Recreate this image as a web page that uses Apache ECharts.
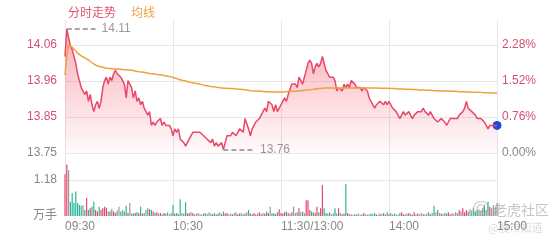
<!DOCTYPE html>
<html><head><meta charset="utf-8">
<script src="https://cdn.jsdelivr.net/npm/echarts@6/dist/echarts.min.js"></script>
<style>html,body{margin:0;padding:0;background:#fff}#c{width:560px;height:240px}</style>
</head><body><div id="c"></div>
<script>
const PREV_CLOSE = 13.75;
const PCT_MAX = 2.808;
const VOL_MAX = 2.065;
const PCT_INTERVAL = 0.76;
const VOL_INTERVAL = 1.18;

const TIME_LABELS = ['09:30', '10:30', '11:30/13:00', '14:00', '15:00'];
const PRICE_TICKS = ['13.75', '13.85', '13.96', '14.06'];
const PCT_TICKS = ['0.00%', '0.76%', '1.52%', '2.28%'];
const VOL_TICKS = ['万手', '1.18'];

const PRICES = [
14.03,14.11,14.11,14.06,14.05,14.03,14.01,13.98,13.96,13.94,
13.94,13.92,13.93,13.90,13.92,13.89,13.87,13.89,13.90,13.88,
13.90,13.94,13.96,13.97,13.95,13.97,13.96,13.98,13.99,13.98,
13.98,13.97,13.97,13.95,13.91,13.96,13.96,13.94,13.91,13.93,
13.90,13.91,13.89,13.90,13.88,13.88,13.86,13.87,13.83,13.84,
13.83,13.84,13.84,13.85,13.83,13.84,13.83,13.83,13.83,13.82,
13.80,13.82,13.81,13.82,13.79,13.79,13.78,13.77,13.78,13.79,
13.79,13.81,13.81,13.81,13.81,13.81,13.81,13.80,13.80,13.79,
13.79,13.78,13.79,13.77,13.78,13.77,13.77,13.78,13.76,13.78,
13.80,13.80,13.80,13.81,13.81,13.80,13.81,13.82,13.82,13.81,
13.85,13.85,13.82,13.80,13.82,13.83,13.84,13.84,13.85,13.86,
13.86,13.88,13.87,13.90,13.90,13.89,13.87,13.89,13.87,13.88,
13.89,13.90,13.91,13.90,13.92,13.92,13.95,13.95,13.95,13.94,
13.97,13.97,13.95,13.95,13.99,14.01,14.02,14.01,13.98,14.00,
14.01,14.00,14.01,14.03,14.01,13.99,13.98,13.97,13.97,13.97,
13.96,13.93,13.94,13.94,13.93,13.95,13.94,13.95,13.94,13.96,
13.96,13.95,13.94,13.94,13.94,13.93,13.94,13.94,13.93,13.91,
13.90,13.89,13.88,13.89,13.89,13.90,13.90,13.89,13.90,13.89,
13.90,13.89,13.88,13.88,13.87,13.87,13.85,13.86,13.87,13.86,
13.86,13.87,13.86,13.85,13.86,13.86,13.87,13.87,13.87,13.88,
13.87,13.87,13.86,13.87,13.87,13.85,13.85,13.84,13.84,13.85,
13.85,13.84,13.83,13.84,13.85,13.85,13.85,13.85,13.85,13.86,
13.86,13.87,13.88,13.90,13.88,13.88,13.87,13.87,13.86,13.85,
13.85,13.85,13.85,13.84,13.84,13.82,13.83,13.83,13.83,13.83,
13.83
];

const AVG = [
13.976,14.034,14.063,14.061,14.057,14.052,14.046,14.040,14.035,14.032,
14.029,14.026,14.023,14.020,14.016,14.012,14.008,14.005,14.003,14.001,
14.000,13.999,13.997,13.996,13.996,13.995,13.995,13.994,13.994,13.994,
13.993,13.993,13.993,13.992,13.992,13.991,13.991,13.990,13.989,13.988,
13.987,13.986,13.985,13.985,13.984,13.983,13.982,13.981,13.980,13.980,
13.979,13.978,13.978,13.977,13.976,13.975,13.974,13.973,13.972,13.971,
13.969,13.968,13.966,13.964,13.962,13.961,13.960,13.959,13.957,13.956,
13.955,13.954,13.953,13.952,13.951,13.950,13.949,13.947,13.946,13.945,
13.944,13.943,13.942,13.942,13.941,13.940,13.939,13.939,13.938,13.938,
13.938,13.937,13.937,13.937,13.936,13.936,13.935,13.935,13.934,13.934,
13.933,13.933,13.932,13.931,13.931,13.930,13.930,13.930,13.929,13.929,
13.929,13.928,13.928,13.928,13.927,13.927,13.927,13.927,13.927,13.927,
13.927,13.927,13.928,13.928,13.928,13.929,13.929,13.929,13.930,13.930,
13.930,13.931,13.931,13.932,13.932,13.933,13.934,13.934,13.935,13.936,
13.936,13.937,13.937,13.938,13.938,13.939,13.939,13.939,13.939,13.939,
13.939,13.939,13.939,13.939,13.939,13.939,13.939,13.939,13.939,13.939,
13.939,13.939,13.939,13.939,13.939,13.939,13.939,13.939,13.939,13.939,
13.939,13.939,13.939,13.939,13.939,13.938,13.938,13.938,13.938,13.938,
13.938,13.937,13.937,13.937,13.937,13.936,13.936,13.936,13.936,13.935,
13.935,13.935,13.935,13.934,13.934,13.934,13.934,13.933,13.933,13.933,
13.933,13.932,13.932,13.932,13.932,13.931,13.931,13.931,13.931,13.930,
13.930,13.930,13.930,13.930,13.930,13.929,13.929,13.929,13.929,13.928,
13.928,13.928,13.928,13.927,13.927,13.927,13.927,13.926,13.926,13.926,
13.926,13.926,13.925,13.925,13.925,13.925,13.925,13.924,13.924,13.924,
13.924
];

const VOLUMES = [
1.37,1.69,1.51,0.47,0.75,0.43,0.80,0.43,0.36,0.34,
0.36,0.20,0.60,0.20,0.25,0.30,0.47,0.20,0.15,0.30,
0.20,0.25,0.30,0.27,0.15,0.15,0.22,0.15,0.10,0.17,
0.30,0.15,0.20,0.15,0.34,0.10,0.43,0.08,0.08,0.10,
0.12,0.10,0.30,0.08,0.10,0.20,0.25,0.22,0.20,0.15,
0.10,0.12,0.08,0.10,0.06,0.10,0.08,0.12,0.06,0.10,
0.36,0.08,0.10,0.06,0.55,0.10,0.08,0.45,0.08,0.10,
0.12,0.10,0.06,0.08,0.10,0.06,0.05,0.08,0.10,0.06,
0.12,0.08,0.06,0.10,0.05,0.08,0.12,0.06,0.15,0.08,
0.10,0.06,0.08,0.05,0.10,0.12,0.06,0.08,0.10,0.05,
0.08,0.12,0.20,0.08,0.06,0.10,0.05,0.08,0.12,0.06,
0.10,0.08,0.15,0.10,0.30,0.08,0.10,0.06,0.12,0.22,
0.10,0.08,0.12,0.15,0.10,0.08,0.12,0.30,0.10,0.12,
0.25,0.12,0.15,0.10,0.52,0.52,0.20,0.15,0.12,0.10,
0.30,0.12,0.25,1.02,0.25,0.10,0.08,0.12,0.06,0.10,
0.25,0.08,0.25,0.10,0.06,0.08,1.05,0.10,0.06,0.05,
0.04,0.06,0.05,0.08,0.04,0.05,0.10,0.06,0.04,0.05,
0.08,0.06,0.10,0.05,0.04,0.08,0.06,0.10,0.05,0.12,
0.06,0.10,0.05,0.08,0.06,0.04,0.10,0.12,0.06,0.05,
0.08,0.10,0.06,0.04,0.12,0.06,0.08,0.05,0.10,0.06,
0.05,0.08,0.12,0.06,0.10,0.34,0.12,0.20,0.10,0.08,
0.06,0.10,0.08,0.12,0.06,0.10,0.08,0.12,0.10,0.20,
0.15,0.25,0.12,0.20,0.15,0.22,0.18,0.25,0.15,0.20,
0.22,0.18,0.25,0.34,0.20,0.47,0.30,0.25,0.35,0.30,
0.43
];

// time categories 09:30-11:30, 13:01-15:00
const TIMES = [];
function pad(n){return (n<10?'0':'')+n;}
for (let m = 0; m <= 120; m++) { const t = 9*60+30+m; TIMES.push(pad(Math.floor(t/60))+':'+pad(t%60)); }
for (let m = 1; m <= 120; m++) { const t = 13*60+m; TIMES.push(pad(Math.floor(t/60))+':'+pad(t%60)); }

const RED = '#e8486a', GREEN = '#2fb59c', GRAY = '#9a9a9a';
const LABEL_RED = '#d4506e', LABEL_GRAY = '#888';
const GRID_COLOR = '#e6e6e6';

const maxV = Math.max(...PRICES), minV = Math.min(...PRICES);
const maxIdx = PRICES.indexOf(maxV), minIdx = PRICES.indexOf(minV);
const last = PRICES.length - 1;

const volData = VOLUMES.map((v, i) => {
  const prev = i === 0 ? PREV_CLOSE : PRICES[i-1];
  const c = PRICES[i] > prev ? RED : (PRICES[i] < prev ? GREEN : GRAY);
  return { value: v, itemStyle: { color: c } };
});

const chart = echarts.init(document.getElementById('c'));
const FONT = 'Arial, "Liberation Sans", "Noto Sans CJK SC", sans-serif';
chart.setOption({
  animation: false,
  textStyle: { fontFamily: FONT },
  title: {
    text: '{a|分时走势}{b|均线}', left: 63, top: 3,
    textStyle: { fontWeight: 'normal', rich: {
      a: { color: '#e2566f', fontSize: 12, fontWeight: 'normal', fontFamily: FONT, padding: [0, 15, 0, 0] },
      b: { color: '#f0a040', fontSize: 12, fontWeight: 'normal', fontFamily: FONT }
    } }
  },
  grid: [
    { left: 65, right: 63, top: 20, height: 133 },
    { left: 65, right: 63, top: 153, height: 63 }
  ],
  xAxis: [
    { type: 'category', gridIndex: 0, data: TIMES, boundaryGap: false,
      axisLine: { show: false }, axisTick: { show: false }, axisLabel: { show: false },
      splitLine: { show: true, interval: (i) => i % 60 === 0, lineStyle: { color: GRID_COLOR } } },
    { type: 'category', gridIndex: 1, data: TIMES, boundaryGap: false,
      axisLine: { show: false }, axisTick: { show: false },
      axisLabel: { interval: (i) => i % 60 === 0, formatter: (v, i) => TIME_LABELS[Math.round(i/60)] || '',
        align: 'left', color: LABEL_GRAY, fontSize: 12, margin: 5 },
      splitLine: { show: true, interval: (i) => i % 60 === 0, lineStyle: { color: GRID_COLOR } } }
  ],
  yAxis: [
    { type: 'value', gridIndex: 0, position: 'left', min: 0, max: PCT_MAX, interval: PCT_INTERVAL,
      axisLine: { show: false }, axisTick: { show: false },
      axisLabel: { showMaxLabel: false, margin: 8, fontSize: 12,
        formatter: (v) => PRICE_TICKS[Math.round(v / PCT_INTERVAL)] || '',
        color: (v) => Number(v) > 0 ? LABEL_RED : LABEL_GRAY },
      splitLine: { show: true, showMaxLine: false, lineStyle: { color: GRID_COLOR } } },
    { type: 'value', gridIndex: 0, position: 'right', min: 0, max: PCT_MAX, interval: PCT_INTERVAL,
      axisLine: { show: false }, axisTick: { show: false },
      axisLabel: { showMaxLabel: false, margin: 5, fontSize: 12,
        formatter: (v) => PCT_TICKS[Math.round(v / PCT_INTERVAL)] || '',
        color: (v) => Number(v) > 0 ? LABEL_RED : LABEL_GRAY },
      splitLine: { show: false } },
    { type: 'value', gridIndex: 0, min: PREV_CLOSE, max: PREV_CLOSE * (1 + PCT_MAX / 100), show: false },
    { type: 'value', gridIndex: 1, position: 'left', min: 0, max: VOL_MAX, interval: VOL_INTERVAL,
      axisLine: { show: false }, axisTick: { show: false },
      axisLabel: { showMaxLabel: false, margin: 8, fontSize: 12, color: LABEL_GRAY,
        formatter: (v) => VOL_TICKS[Math.round(v / VOL_INTERVAL)] || '' },
      splitLine: { show: true, showMinLine: false, showMaxLine: false, lineStyle: { color: GRID_COLOR } } }
  ],
  series: [
    { name: '分时走势', type: 'line', xAxisIndex: 0, yAxisIndex: 2, data: PRICES,
      symbol: 'none', lineStyle: { color: RED, width: 1.5 },
      areaStyle: { origin: 'start', color: new echarts.graphic.LinearGradient(0, 0, 0, 1, [
        { offset: 0, color: 'rgba(243,90,112,0.7)' },
        { offset: 1, color: 'rgba(243,90,112,0.04)' }
      ]) },
      markLine: { silent: true, symbol: ['none', 'none'], animation: false,
        lineStyle: { color: '#8a8a8a', type: [5, 3], width: 1.5 },
        label: { position: 'end', color: '#999', fontSize: 12, distance: 6,
          formatter: (p) => [maxV, minV][p.dataIndex].toFixed(2) },
        data: [
          [{ coord: [maxIdx, maxV] }, { coord: [maxIdx + 16, maxV] }],
          [{ coord: [minIdx, minV] }, { coord: [minIdx + 17, minV] }]
        ] } },
    { name: '均线', type: 'line', xAxisIndex: 0, yAxisIndex: 2, data: AVG,
      symbol: 'none', lineStyle: { color: '#f0a03c', width: 1.5 } },
    { type: 'scatter', xAxisIndex: 0, yAxisIndex: 2, data: [[last, PRICES[last]]],
      symbolSize: 9, itemStyle: { color: '#1848d8', opacity: 1 }, silent: true },
    { type: 'bar', xAxisIndex: 1, yAxisIndex: 3, data: volData, barWidth: 1.2 }
  ],
  graphic: [
    { type: 'text', left: 471, top: 199, silent: true, style: { text: '@', fontSize: 19, fill: 'rgba(150,150,150,0.45)', fontFamily: FONT } },
    { type: 'text', left: 493, top: 203, silent: true, style: { text: '老虎社区', fontSize: 14, fill: 'rgba(140,140,140,0.5)', fontFamily: '"Noto Sans CJK SC", sans-serif' } },
    { type: 'text', left: 488, top: 222, silent: true, style: { text: '@股市知道', fontSize: 11, fill: 'rgba(170,170,170,0.45)', fontFamily: '"Noto Sans CJK SC", sans-serif' } }
  ]
});
</script>
</body></html>
